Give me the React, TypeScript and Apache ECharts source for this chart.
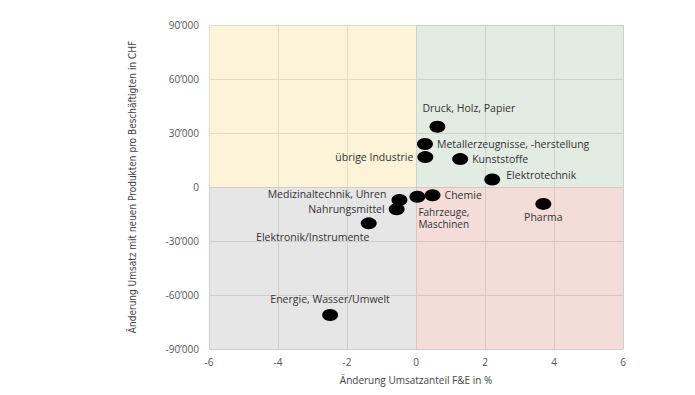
import React, { useEffect, useRef } from "react";
import * as echarts from "echarts";

const names = [
  "Druck, Holz, Papier",
  "Metallerzeugnisse, -herstellung",
  "übrige Industrie",
  "Kunststoffe",
  "Elektrotechnik",
  "Medizinaltechnik, Uhren",
  "Fahrzeuge,\nMaschinen",
  "Chemie",
  "Nahrungsmittel",
  "Elektronik/Instrumente",
  "Pharma",
  "Energie, Wasser/Umwelt",
];
const xValues = [0.62, 0.26, 0.27, 1.28, 2.21, -0.48, 0.04, 0.48, -0.56, -1.37, 3.69, -2.49];
const yValues = [33500, 23900, 16600, 15500, 4200, -7200, -5400, -4600, -12400, -20200, -9400, -71100];

const xTicks = [-6, -4, -2, 0, 2, 4, 6];
const yTicks = [-90000, -60000, -30000, 0, 30000, 60000, 90000];

const labelStyles: Record<string, any> = {
  "Druck, Holz, Papier": { position: "top", distance: 7, align: "left", offset: [-15, 0] },
  "Metallerzeugnisse, -herstellung": { position: "right", distance: 4 },
  "übrige Industrie": { position: "left", distance: 4 },
  "Kunststoffe": { position: "right", distance: 4 },
  "Elektrotechnik": { position: "right", distance: 6, offset: [0, -4] },
  "Medizinaltechnik, Uhren": { position: "left", distance: 5, offset: [0, -6] },
  "Fahrzeuge,\nMaschinen": { position: "bottom", distance: 3, offset: [1, 0], align: "left", lineHeight: 12, fontSize: 10 },
  "Chemie": { position: "right", distance: 4 },
  "Nahrungsmittel": { position: "left", distance: 4 },
  "Elektronik/Instrumente": { position: "bottom", distance: 2, offset: [-56, 0] },
  "Pharma": { position: "bottom", distance: 2 },
  "Energie, Wasser/Umwelt": { position: "top", distance: 4 },
};

const fmtY = (v: number) => {
  if (v === 0) return "0";
  const s = Math.abs(v).toString();
  const t = s.slice(0, s.length - 3) + "\u2019" + s.slice(s.length - 3);
  return (v < 0 ? "-" : "") + t;
};

export default function App() {
  const ref = useRef<HTMLDivElement>(null);
  useEffect(() => {
    if (!ref.current) return;
    const chart = echarts.init(ref.current, undefined, { renderer: "svg" });
    const font = "'Open Sans', 'DejaVu Sans', sans-serif";
    const data = names.map((n, i) => ({
      name: n,
      value: [xValues[i], yValues[i]],
      label: { show: true, ...labelStyles[n] },
    }));
    chart.setOption({
      animation: false,
      backgroundColor: "#ffffff",
      grid: { left: 209, right: 72, top: 25, bottom: 46 },
      xAxis: {
        type: "value",
        min: xTicks[0],
        max: xTicks[xTicks.length - 1],
        interval: 2,
        name: "Änderung Umsatzanteil F&E in %",
        nameLocation: "middle",
        nameGap: 26,
        nameTextStyle: { color: "#444", fontSize: 10, fontFamily: font },
        axisLine: { show: false },
        axisTick: { show: false },
        axisLabel: { color: "#555", fontSize: 10, fontFamily: font, margin: 8 },
        splitLine: { show: true, lineStyle: { color: "#cfcfcf", width: 1 } },
      },
      yAxis: {
        type: "value",
        min: yTicks[0],
        max: yTicks[yTicks.length - 1],
        interval: 30000,
        name: "Änderung Umsatz mit neuen Produkten pro Beschäftigten in CHF",
        nameLocation: "middle",
        nameGap: 72,
        nameTextStyle: { color: "#444", fontSize: 10, fontFamily: "'Liberation Sans Narrow', 'DejaVu Sans Condensed', sans-serif" },
        axisLine: { show: false },
        axisTick: { show: false },
        axisLabel: { color: "#555", fontSize: 10, fontFamily: font, margin: 10, formatter: fmtY },
        splitLine: { show: true, lineStyle: { color: "#cfcfcf", width: 1 } },
      },
      series: [
        {
          type: "scatter",
          symbol: "circle",
          symbolSize: [16, 12],
          itemStyle: { color: "#000000", opacity: 1 },
          label: {
            show: true,
            formatter: (p: any) => p.name,
            color: "#333",
            fontSize: 10.5,
            fontFamily: font,
          },
          data,
          z: 5,
          markArea: {
            silent: true,
            z: 1,
            data: [
              [{ coord: [-6, 0], itemStyle: { color: "rgba(251,231,177,0.5)" } }, { coord: [0, 90000] }],
              [{ coord: [0, 0], itemStyle: { color: "rgba(197,217,197,0.5)" } }, { coord: [6, 90000] }],
              [{ coord: [-6, -90000], itemStyle: { color: "rgba(205,205,205,0.5)" } }, { coord: [0, 0] }],
              [{ coord: [0, -90000], itemStyle: { color: "rgba(233,187,177,0.5)" } }, { coord: [6, 0] }],
            ],
          },
        },
      ],
    });
    return () => chart.dispose();
  }, []);
  return <div ref={ref} style={{ width: 695, height: 395, margin: -8 }} />;
}
